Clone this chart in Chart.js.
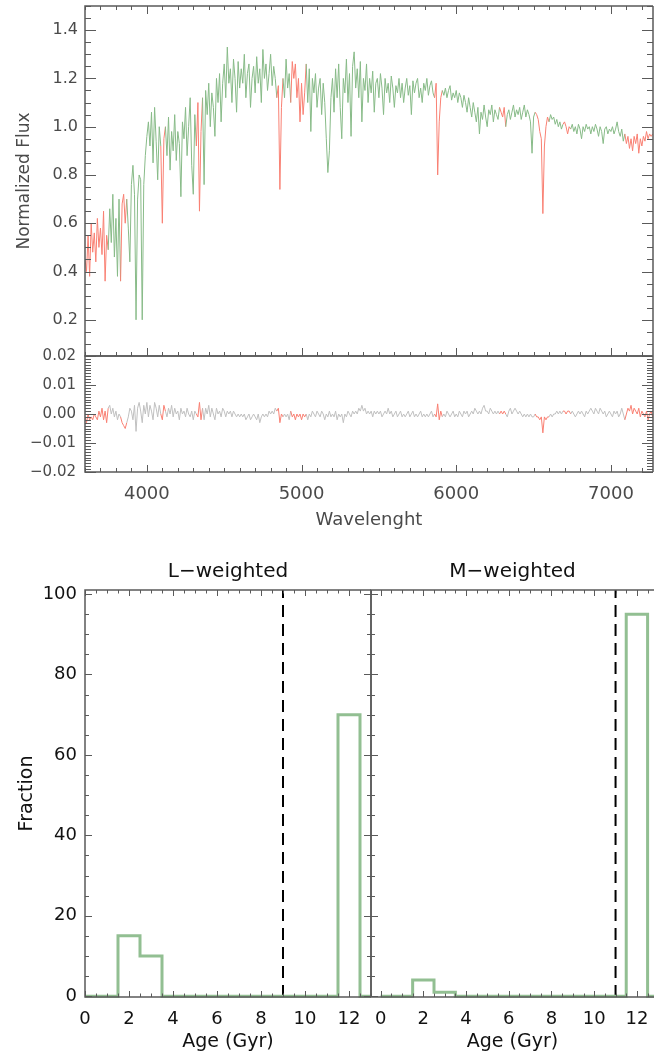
<!DOCTYPE html>
<html>
<head>
<meta charset="utf-8">
<script src="https://cdn.jsdelivr.net/npm/chart.js@4.4.1/dist/chart.umd.min.js"></script>
<style>
  html, body { margin: 0; padding: 0; background: #fff; }
  #page { position: relative; width: 654px; height: 1059px; overflow: hidden; }
  canvas { position: absolute; }
  #flux { left: 0; top: 0; width: 654px; height: 357px; }
  #resid { left: 0; top: 340px; width: 654px; height: 200px; }
  #lw { left: 0; top: 540px; width: 372px; height: 519px; }
  #mw { left: 366px; top: 540px; width: 288px; height: 519px; }
</style>
</head>
<body>
<div id="page">
  <canvas id="flux" width="654" height="357"></canvas>
  <canvas id="resid" width="654" height="200"></canvas>
  <canvas id="lw" width="372" height="519"></canvas>
  <canvas id="mw" width="288" height="519"></canvas>
</div>
<script>
// spectrum sampled every 10 A from 3600 A
const waveStart = 3600;
const waveStep = 10;
const waveMin = 3600, waveMax = 7272;

const fluxValues = [
  0.45,0.40,0.55,0.38,0.60,0.48,0.56,0.44,0.62,0.50,
  0.58,0.47,0.65,0.36,0.55,0.49,0.66,0.52,0.72,0.46,
  0.62,0.38,0.70,0.36,0.68,0.72,0.60,0.70,0.58,0.44,
  0.76,0.84,0.72,0.20,0.70,0.80,0.78,0.20,0.76,0.88,
  0.96,1.02,0.92,1.06,0.85,1.08,0.94,0.78,1.00,0.92,
  0.60,0.95,1.00,0.88,1.04,0.82,0.98,0.90,1.05,0.86,
  0.98,0.93,0.71,1.02,0.95,1.08,0.88,1.00,1.12,0.84,
  0.72,1.05,0.92,1.10,0.65,0.98,1.12,0.76,1.15,1.05,
  1.18,1.00,1.14,1.08,0.96,1.20,1.10,1.22,1.02,1.18,
  1.26,1.12,1.33,1.18,1.24,1.10,1.28,1.20,1.06,1.27,
  1.16,1.24,1.18,1.30,1.12,1.22,1.26,1.08,1.20,1.25,
  1.14,1.29,1.18,1.24,1.10,1.32,1.20,1.26,1.15,1.22,
  1.30,1.17,1.25,1.20,1.12,1.17,0.74,1.08,1.20,1.12,
  1.28,1.16,1.22,1.10,1.27,1.20,1.26,1.12,1.20,1.02,
  1.18,1.05,1.14,1.26,1.10,1.24,0.98,1.20,1.14,1.22,
  1.08,1.16,1.20,1.05,1.18,1.10,0.95,0.81,0.90,1.12,
  1.20,1.06,1.24,1.12,1.26,1.08,0.95,1.20,1.14,1.28,
  1.10,1.22,0.96,1.25,1.31,1.16,1.24,1.12,1.27,1.02,
  1.20,1.15,1.26,1.10,1.20,1.14,1.23,1.06,1.18,1.20,
  1.12,1.22,1.16,1.05,1.20,1.14,1.18,1.10,1.21,1.16,
  1.08,1.17,1.14,1.20,1.12,1.18,1.10,1.16,1.20,1.13,
  1.17,1.05,1.19,1.14,1.18,1.20,1.12,1.16,1.10,1.18,
  1.15,1.20,1.13,1.17,1.19,1.14,1.12,1.18,0.80,1.02,
  1.12,1.15,1.13,1.16,1.12,1.15,1.17,1.11,1.14,1.12,
  1.15,1.10,1.14,1.12,1.08,1.13,1.10,1.06,1.12,1.08,
  1.04,1.10,1.06,1.02,1.08,0.97,1.06,1.03,1.09,1.04,
  1.00,1.07,1.05,1.09,1.02,1.07,1.05,1.03,1.08,1.06,
  1.04,1.08,1.00,1.05,1.07,1.03,1.06,1.09,1.04,1.07,
  1.05,1.08,1.03,1.06,1.09,1.04,1.07,1.05,1.02,0.89,
  1.04,1.06,1.05,1.03,0.98,0.95,0.64,0.92,1.00,1.04,
  1.02,1.05,1.03,1.04,1.01,1.03,1.00,1.02,0.99,1.01,
  1.02,1.00,0.97,1.00,0.99,1.01,0.98,1.00,0.97,1.01,
  0.99,0.95,1.00,0.98,1.01,0.99,1.00,0.97,1.00,0.98,
  1.01,0.99,0.96,1.00,0.98,0.93,0.99,1.00,0.97,0.99,
  0.98,1.00,0.97,0.99,1.02,0.98,0.96,0.99,0.94,0.97,
  0.93,0.96,0.91,0.95,0.90,0.96,0.93,0.97,0.89,0.95,
  0.92,0.96,0.94,0.98,0.95,0.97,0.96,0.97
];

const residValues = [
  -0.001,-0.003,0.000,-0.002,-0.001,-0.002,0.000,-0.001,-0.002,0.001,
  -0.001,0.002,-0.002,0.001,-0.003,0.002,0.003,0.000,0.002,-0.001,
  0.001,-0.002,0.000,-0.001,-0.003,-0.004,-0.005,-0.003,-0.001,0.002,
  0.001,-0.002,0.003,-0.006,0.002,0.004,0.001,-0.003,0.003,0.000,
  0.004,-0.001,0.003,0.001,-0.002,0.004,0.002,-0.001,0.003,0.000,
  -0.002,0.003,0.001,-0.001,0.002,0.000,0.003,-0.001,0.002,0.000,
  0.001,-0.002,0.002,0.000,0.001,-0.001,0.002,0.000,-0.001,0.001,
  -0.002,0.001,0.000,-0.001,0.004,-0.002,0.002,-0.002,0.002,0.000,
  0.003,-0.001,0.002,0.000,-0.002,0.002,0.000,0.001,-0.001,0.002,
  0.001,-0.001,0.001,0.000,0.001,-0.001,0.001,0.000,-0.001,0.000,
  -0.001,0.000,-0.001,0.000,-0.002,-0.001,0.000,-0.002,-0.001,0.000,
  -0.001,-0.002,0.000,-0.003,-0.001,0.000,-0.001,0.000,-0.001,0.001,
  0.000,0.001,0.000,0.002,0.001,0.002,-0.003,0.000,-0.001,0.000,
  -0.001,0.000,-0.002,0.001,-0.001,0.000,-0.002,0.000,-0.001,0.000,
  -0.002,0.000,-0.001,0.000,-0.002,0.000,-0.001,0.001,0.000,-0.001,
  0.001,0.000,-0.001,0.001,0.000,-0.002,0.000,-0.001,0.001,-0.001,
  0.000,-0.001,0.001,-0.002,0.000,-0.001,0.000,-0.003,0.000,-0.001,
  0.001,0.000,-0.001,0.001,0.000,0.001,0.000,0.002,0.001,0.003,
  0.001,0.002,0.000,0.001,0.000,0.001,-0.001,0.001,0.000,0.001,
  0.000,0.001,-0.001,0.000,0.001,0.000,0.002,0.000,0.001,-0.001,
  0.000,0.001,-0.001,0.000,0.001,-0.001,0.000,-0.001,0.000,0.001,
  -0.001,0.000,0.001,-0.001,0.000,-0.001,0.000,0.001,-0.001,0.000,
  -0.001,0.000,-0.001,0.000,0.001,-0.001,0.000,-0.001,0.0035,-0.002,
  0.001,-0.001,0.000,-0.001,0.001,0.000,-0.001,0.000,0.001,-0.001,
  0.000,-0.001,0.001,0.000,-0.001,0.001,0.000,0.001,-0.001,0.000,
  0.001,0.000,0.002,0.001,0.000,0.001,0.000,0.002,0.003,0.001,
  0.001,0.000,0.002,0.001,0.000,0.001,0.000,0.001,0.000,0.001,
  0.000,0.001,0.000,-0.001,0.001,0.002,0.000,0.001,0.002,0.001,
  0.000,0.001,0.000,-0.001,0.000,-0.001,0.000,-0.001,0.000,-0.001,
  -0.001,0.000,-0.001,-0.001,-0.002,-0.001,-0.0065,-0.001,-0.002,-0.001,
  -0.001,0.000,-0.001,0.000,0.000,0.001,0.000,0.001,0.000,0.001,
  0.001,0.000,0.001,0.001,0.000,0.001,0.000,-0.001,0.000,0.001,
  0.000,0.001,0.000,-0.001,0.001,0.000,0.001,0.002,0.001,0.000,
  0.002,0.001,0.000,0.002,0.001,0.000,0.001,-0.001,0.000,0.001,
  0.000,-0.001,0.001,0.000,0.001,-0.001,0.000,0.002,0.000,-0.002,
  0.000,0.002,0.001,0.003,0.000,0.002,0.001,0.000,0.002,-0.001,
  0.001,0.000,-0.001,0.001,-0.002,0.000,0.001,-0.001
];

// wavelength windows masked out of the fit (drawn red)
const maskRanges = [
  [3600, 3745], [3835, 3865], [4090, 4115], [4325, 4355], [4845, 4875],
  [4935, 5025], [5865, 5905], [6285, 6315], [6515, 6595], [6695, 6735], [7095, 7275]
];

const waveTicks = [4000, 5000, 6000, 7000];
const fluxTicks = [0.2, 0.4, 0.6, 0.8, 1.0, 1.2, 1.4];
const residTicks = [-0.02, -0.01, 0, 0.01, 0.02];

// age histograms (1 Gyr bins)
const ages = [0, 1, 2, 3, 4, 5, 6, 7, 8, 9, 10, 11, 12, 13];
const lightFrac = [0, 0, 15, 10, 0, 0, 0, 0, 0, 0, 0, 0, 70, 0];
const massFrac = [0, 0, 4, 1, 0, 0, 0, 0, 0, 0, 0, 0, 95, 0];
const lightMark = 9;
const massMark = 11;
const ageTicks = [0, 2, 4, 6, 8, 10, 12];
const fracTicks = [0, 20, 40, 60, 80, 100];

const green = '#88bb88';
const red = '#f98073';
const gray = '#c0c0c0';
const histGreen = '#92bf92';
const axisCol = '#5a5a5a';

Chart.defaults.font.family = "'DejaVu Sans', sans-serif";

const inMask = w => maskRanges.some(r => w >= r[0] && w <= r[1]);
const segColor = base => c => inMask((c.p0.parsed.x + c.p1.parsed.x) / 2) ? red : base;
const toPoints = arr => arr.map((v, i) => ({ x: waveStart + i * waveStep, y: v }));

function tickSet(min, max, majors, step) {
  const res = [];
  for (const v of majors) if (v >= min - 1e-9 && v <= max + 1e-9) res.push([v, true]);
  const n0 = Math.ceil(min / step - 1e-6), n1 = Math.floor(max / step + 1e-6);
  for (let n = n0; n <= n1; n++) {
    const v = n * step;
    if (!majors.some(m => Math.abs(m - v) < step / 10)) res.push([v, false]);
  }
  return res;
}

// IDL style box with inward ticks; settings kept per canvas id
const frameCfg = {};
const idlFrame = {
  id: 'idlFrame',
  afterDraw(chart) {
    const o = frameCfg[chart.canvas.id];
    const ctx = chart.ctx;
    const a = chart.chartArea;
    const xs = chart.scales.x, ys = chart.scales.y;
    const xt = tickSet(xs.min, xs.max, o.xMajor, o.xMinor);
    const yt = tickSet(ys.min, ys.max, o.yMajor, o.yMinor);
    ctx.save();
    ctx.strokeStyle = o.color;
    ctx.lineWidth = 1;
    ctx.beginPath();
    for (const [v, major] of xt) {
      const px = Math.round(xs.getPixelForValue(v)) + 0.5;
      const len = major ? o.xLen[0] : o.xLen[1];
      if (o.bottom) { ctx.moveTo(px, a.bottom); ctx.lineTo(px, a.bottom - len); }
      if (o.top) { ctx.moveTo(px, a.top); ctx.lineTo(px, a.top + len); }
    }
    for (const [v, major] of yt) {
      const py = Math.round(ys.getPixelForValue(v)) + 0.5;
      const len = major ? o.yLen[0] : o.yLen[1];
      ctx.moveTo(a.left, py); ctx.lineTo(a.left + len, py);
      if (o.right) { ctx.moveTo(a.right, py); ctx.lineTo(a.right - len, py); }
    }
    ctx.stroke();
    ctx.lineWidth = 1.5;
    ctx.beginPath();
    ctx.moveTo(a.right, a.top); ctx.lineTo(a.left, a.top); ctx.lineTo(a.left, a.bottom); ctx.lineTo(a.right, a.bottom);
    if (o.rightLine) { ctx.moveTo(a.right, a.top); ctx.lineTo(a.right, a.bottom); }
    ctx.stroke();
    ctx.restore();
  }
};

const setTicks = list => s => { s.ticks = list.map(v => ({ value: v })); };
const fitY = w => s => { s.width = w; s.paddingTop = 0; s.paddingBottom = 0; };
const fitX = h => s => { s.height = h; s.paddingLeft = 0; s.paddingRight = 0; };
const noGrid = { display: false, drawTicks: false };
const topText = '#4a4a4a';
const botText = '#111';

// top: spectrum
frameCfg.flux = {
  color: axisCol, top: true, bottom: true, right: true, rightLine: true,
  xMajor: waveTicks, xMinor: 100, xLen: [8, 4],
  yMajor: fluxTicks, yMinor: 0.05, yLen: [11, 6]
};
new Chart(document.getElementById('flux'), {
  type: 'line',
  data: {
    datasets: [{
      data: toPoints(fluxValues),
      borderColor: green,
      borderWidth: 1,
      pointRadius: 0,
      segment: { borderColor: segColor(green) }
    }]
  },
  options: {
    responsive: false, animation: false, events: [],
    layout: { padding: { top: 6, right: 1, bottom: 1, left: 0 } },
    plugins: { legend: { display: false }, tooltip: { enabled: false } },
    scales: {
      x: { type: 'linear', min: waveMin, max: waveMax, display: false },
      y: {
        min: 0.05, max: 1.5,
        afterFit: fitY(85),
        afterBuildTicks: setTicks(fluxTicks),
        grid: noGrid, border: { display: false },
        ticks: { padding: 7, color: topText, font: { size: 16 }, callback: v => v.toFixed(1) },
        title: { display: true, text: 'Normalized Flux', color: topText, font: { size: 17 }, padding: { top: 14 } }
      }
    }
  },
  plugins: [idlFrame]
});

// residuals
frameCfg.resid = {
  color: axisCol, top: false, bottom: true, right: true, rightLine: true,
  xMajor: waveTicks, xMinor: 100, xLen: [7, 4],
  yMajor: residTicks, yMinor: 0.001, yLen: [11, 6]
};
new Chart(document.getElementById('resid'), {
  type: 'line',
  data: {
    datasets: [{
      data: toPoints(residValues),
      borderColor: gray,
      borderWidth: 1,
      pointRadius: 0,
      segment: { borderColor: segColor(gray) }
    }]
  },
  options: {
    responsive: false, animation: false, events: [],
    layout: { padding: { top: 16, right: 1, bottom: 0, left: 0 } },
    plugins: { legend: { display: false }, tooltip: { enabled: false } },
    scales: {
      x: {
        type: 'linear', min: waveMin, max: waveMax,
        afterFit: fitX(68),
        afterBuildTicks: setTicks(waveTicks),
        grid: noGrid, border: { display: false },
        ticks: { padding: 12, color: topText, font: { size: 18 }, callback: v => String(v) },
        title: { display: true, text: 'Wavelenght', color: topText, font: { size: 18 }, padding: { bottom: 9 } }
      },
      y: {
        min: -0.02, max: 0.02,
        afterFit: fitY(85),
        afterBuildTicks: setTicks(residTicks),
        grid: noGrid, border: { display: false },
        ticks: { padding: 9, color: topText, font: { size: 15 }, callback: v => (v < 0 ? '\u2212' : '') + Math.abs(v).toFixed(2) }
      }
    }
  },
  plugins: [idlFrame]
});

function histChart(id, title, frac, mark, xMin, xMax, showY) {
  frameCfg[id] = {
    color: axisCol, top: true, bottom: true, right: showY, rightLine: showY,
    xMajor: ageTicks, xMinor: 0.5, xLen: [6, 3.5],
    yMajor: fracTicks, yMinor: 5, yLen: [7, 4]
  };
  return new Chart(document.getElementById(id), {
    type: 'line',
    data: {
      datasets: [
        {
          data: ages.map((g, i) => ({ x: g, y: frac[i] })),
          stepped: 'middle',
          borderColor: histGreen,
          borderWidth: 3,
          borderJoinStyle: 'miter',
          pointRadius: 0,
          clip: 4
        },
        {
          data: [{ x: mark, y: -0.2 }, { x: mark, y: 101 }],
          borderColor: '#000',
          borderWidth: 2,
          borderDash: [12, 7],
          pointRadius: 0
        }
      ]
    },
    options: {
      responsive: false, animation: false, events: [],
      layout: { padding: { top: 0, right: showY ? 1 : 0, bottom: 0, left: showY ? 0 : 5 } },
      plugins: {
        legend: { display: false }, tooltip: { enabled: false },
        title: { display: true, text: title, fullSize: false, color: botText, font: { size: 20, weight: 'normal' }, padding: { top: 20, bottom: 6 } }
      },
      scales: {
        x: {
          type: 'linear', min: xMin, max: xMax,
          afterFit: fitX(62),
          afterBuildTicks: setTicks(ageTicks),
          grid: noGrid, border: { display: false },
          ticks: { padding: 12, color: botText, font: { size: 18 }, callback: v => String(v) },
          title: { display: true, text: 'Age (Gyr)', color: botText, font: { size: 19 }, padding: { bottom: 6 } }
        },
        y: {
          min: -0.2, max: 101,
          display: showY,
          afterFit: fitY(showY ? 85 : 0),
          afterBuildTicks: setTicks(fracTicks),
          grid: noGrid, border: { display: false },
          ticks: { padding: 8, color: botText, font: { size: 18 }, callback: v => String(v) },
          title: { display: true, text: 'Fraction', color: botText, font: { size: 19 }, padding: { top: 16 } }
        }
      }
    },
    plugins: [idlFrame]
  });
}

histChart('lw', 'L\u2212weighted', lightFrac, lightMark, 0, 13, true);
histChart('mw', 'M\u2212weighted', massFrac, massMark, -0.45, 12.8, false);
</script>
</body>
</html>
